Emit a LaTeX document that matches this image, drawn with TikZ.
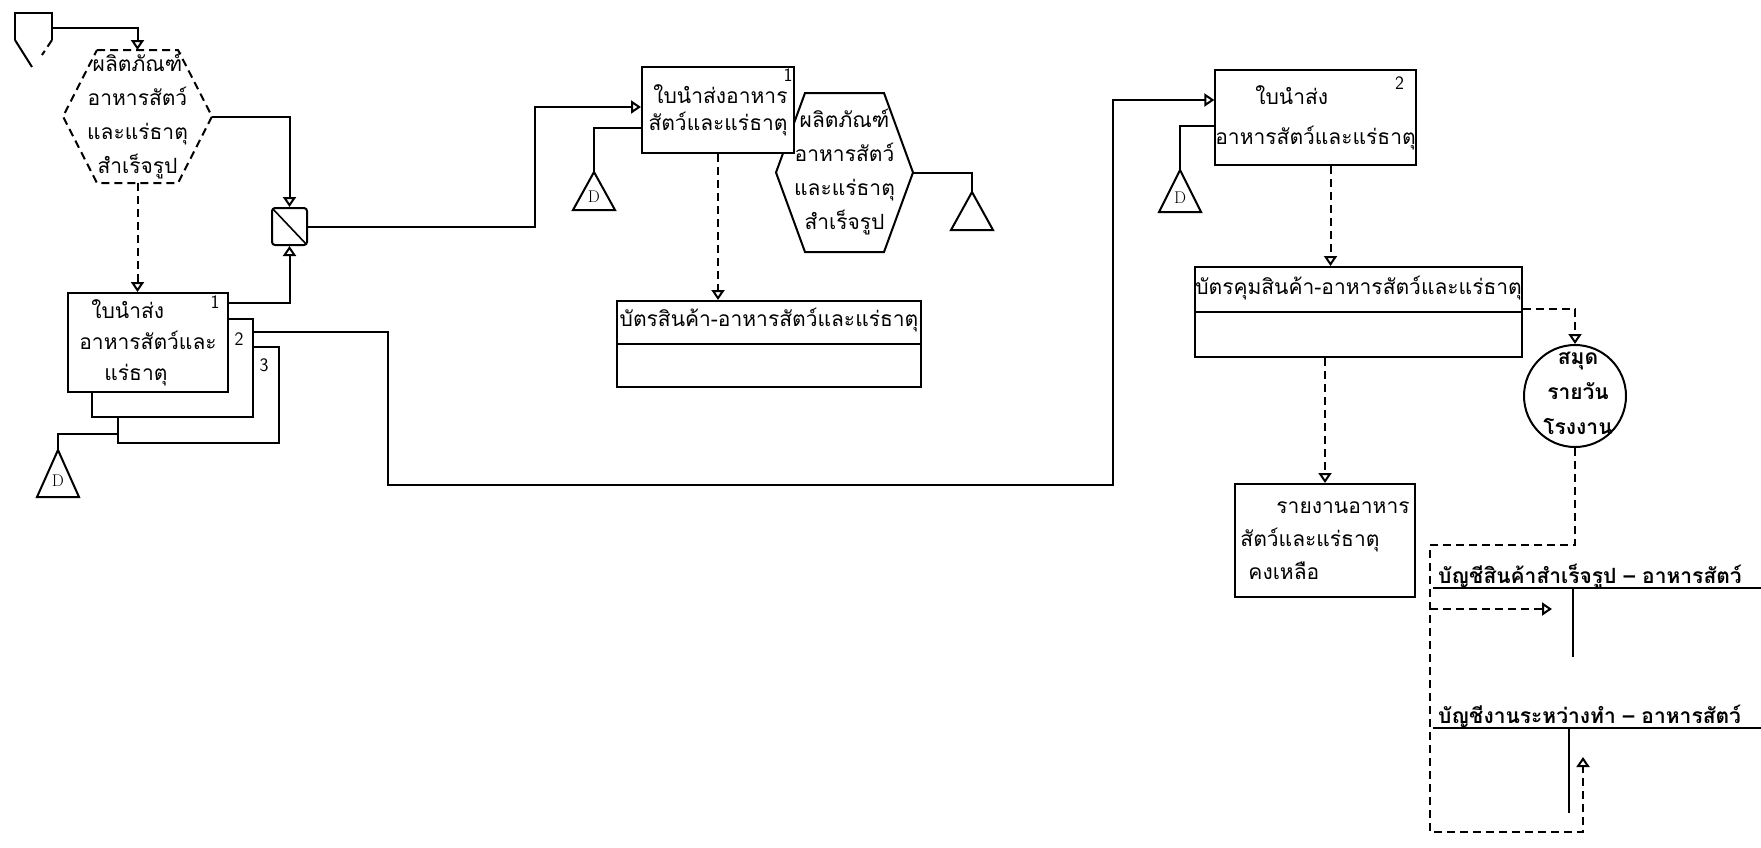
\documentclass[tikz,border=0pt]{standalone}
\usepackage{fontspec}
\newfontfamily\thaifont[Script=Thai]{Loma}
\usepackage{tikz}
\usetikzlibrary{arrows.meta,calc}

\begin{document}
\begin{tikzpicture}[x=1pt,y=-1pt,>={Triangle[open,length=10pt,width=13pt]},line width=2pt,font=\thaifont\fontsize{21}{31}\selectfont]
\tikzstyle{doc}=[draw,fill=white,inner sep=0pt]
\tikzstyle{num}=[font=\sffamily\fontsize{19}{19}\selectfont,inner sep=0pt]
\tikzstyle{flow}=[->]
\tikzstyle{dashline}=[dash pattern=on 8pt off 5pt]
\tikzstyle{dashflow}=[->,dash pattern=on 8pt off 5pt]
\tikzstyle{hextext}=[align=center,inner sep=0pt,font=\thaifont\fontsize{21}{34}\selectfont]
\tikzstyle{acct}=[inner sep=0pt,anchor=base west,font=\thaifont\bfseries\fontsize{21}{31}\selectfont]
\newcommand{\prodhex}[7]{%
\node[hextext] (#1) at (#2,#3) {ผลิตภัณฑ์\\อาหารสัตว์\\และแร่ธาตุ\\สำเร็จรูป};
\coordinate (#1-n) at (#2,#3-#6);
\coordinate (#1-s) at (#2,#3+#6);
\coordinate (#1-e) at (#2+#4,#3);
\draw[#7] (#2-#5,#3-#6) -- (#2+#5,#3-#6) -- (#2+#4,#3) -- (#2+#5,#3+#6) -- (#2-#5,#3+#6) -- (#2-#4,#3) -- cycle;
}
\newcommand{\filetri}[5]{%
\coordinate (#1) at (#2,#3);
\draw (#1) -- ++(-21,#4) -- ++(42,0) -- cycle;
\node[font=\rmfamily\fontsize{17}{17}\selectfont,inner sep=0pt] (#1-l) at (#2,#3+#4*0.66) {#5};
}
\fill[white] (0,0) rectangle (1761,847);
\useasboundingbox (0,0) rectangle (1761,847);
\draw (15,40) -- (15,13) -- (52,13) -- (52,40);
\draw (15,40) -- (32,67);
\draw[dashline] (52,40) -- (42,55);
\coordinate (srcTop) at (52,28);
\prodhex{prodA}{137.5}{116.5}{74.5}{40.5}{66.5}{dashline}
\node[draw,rounded corners=3pt,minimum width=35,minimum height=37,inner sep=0pt,path picture={\draw[line width=1.6pt] (path picture bounding box.north west) -- (path picture bounding box.south east);}] (merge) at (289.5,226.5) {};
\node[doc,minimum width=161,minimum height=96] (doc3) at (198.5,395) {};
\node[doc,minimum width=161,minimum height=98] (doc2) at (172.5,368) {};
\node[doc,minimum width=160,minimum height=99,align=left] (doc1) at (148,342.5) {\hspace*{12pt}ใบนำส่ง\\อาหารสัตว์และ\\\hspace*{25pt}แร่ธาตุ};
\node[num] (num1) at ($(doc1.north east)+(-14,10)$) {1};
\node[num] (num2) at ($(doc2.north east)+(-15,21)$) {2};
\node[num] (num3) at ($(doc3.north east)+(-16,19)$) {3};
\filetri{fileA}{58}{450}{47}{D}
\prodhex{prodB}{844.5}{172.5}{68.5}{39.5}{79.5}{solid}
\node[doc,minimum width=152,minimum height=86,align=right,font=\thaifont\fontsize{21}{27}\selectfont] (docA) at (718,110) {ใบนำส่งอาหาร\\สัตว์และแร่ธาตุ};
\node[num] (numA) at ($(docA.north east)+(-7,9)$) {1};
\filetri{fileB}{594}{172}{38}{D}
\filetri{fileC}{972}{192}{38}{}
\node[doc,minimum width=304,minimum height=86] (card) at (769,344) {};
\node[inner sep=0pt] (cardTitle) at ($(card.north)+(0,20)$) {บัตรสินค้า-อาหารสัตว์และแร่ธาตุ};
\draw (card.west) -- (card.east);
\node[doc,minimum width=177,minimum height=95,align=left,font=\thaifont\fontsize{21}{40}\selectfont] (docB) at (1315.5,117.5) {\hspace*{40pt}ใบนำส่ง\\อาหารสัตว์และแร่ธาตุ};
\node[num] (numB) at ($(docB.north east)+(-17,14)$) {2};
\filetri{fileD}{1180}{170}{42}{D}
\node[doc,minimum width=327,minimum height=90] (ctrl) at (1358.5,312) {};
\node[inner sep=0pt] (ctrlTitle) at ($(ctrl.north)+(0,22)$) {บัตรคุมสินค้า-อาหารสัตว์และแร่ธาตุ};
\draw (ctrl.west) -- (ctrl.east);
\node[draw,circle,minimum size=102,inner sep=0pt] (book) at (1575,396) {};
\node[align=center,inner sep=0pt,font=\thaifont\bfseries\fontsize{21}{35}\selectfont] (bookText) at (1578,393) {สมุด\\รายวัน\\โรงงาน};
\node[doc,minimum width=180,minimum height=113,align=left,font=\thaifont\fontsize{21}{33}\selectfont] (report) at (1325,540.5) {\hspace*{36pt}รายงานอาหาร\\สัตว์และแร่ธาตุ\\\hspace*{8pt}คงเหลือ};
\node[acct] (fgTitle) at (1437,583) {บัญชีสินค้าสำเร็จรูป – อาหารสัตว์};
\draw (1433,588) -- (1761,588);
\draw (1573,588) -- (1573,657);
\node[acct] (wipTitle) at (1437,723) {บัญชีงานระหว่างทำ – อาหารสัตว์};
\draw (1433,728) -- (1761,728);
\draw (1569,728) -- (1569,813);
\coordinate (jA) at (535,107);
\coordinate (jB) at (1113,100);
\coordinate (dB) at ($(docB.south)+(15,0)$);
\coordinate (frameL) at (1430,609);
\coordinate (fgIn) at (1552,609);
\coordinate (wipIn) at (1583,757);
\draw[flow] (srcTop) -| (prodA-n);
\draw[flow] (prodA-e) -| (merge.north);
\draw[flow] ($(doc1.north east)+(0,11)$) -| (merge.south);
\draw[dashflow] (prodA-s) -- (prodA-s |- doc1.north);
\draw ($(doc3.south west)+(0,-10)$) -| (fileA);
\draw[flow] (merge.east) -| (jA) -- (jA -| docA.west);
\draw ($(docA.north west)+(0,62)$) -| (fileB);
\draw[dashflow] (docA.south) -- (docA.south |- card.north);
\draw (prodB-e) -| (fileC);
\draw[flow] ($(doc2.north east)+(0,14)$) -| (388,485) -| (jB) -- (jB -| docB.west);
\draw ($(docB.north west)+(0,57)$) -| (fileD);
\draw[dashflow] (dB) -- (dB |- ctrl.north);
\draw[dashflow] (report.north |- ctrl.south) -- (report.north);
\draw[dashflow] ($(ctrl.north east)+(0,43)$) -| (book.north);
\draw[dashflow] (book.south) |- (1430,545) |- (1583,832) -- (wipIn);
\draw[dashflow] (frameL) -- (fgIn);
\end{tikzpicture}
\end{document}
